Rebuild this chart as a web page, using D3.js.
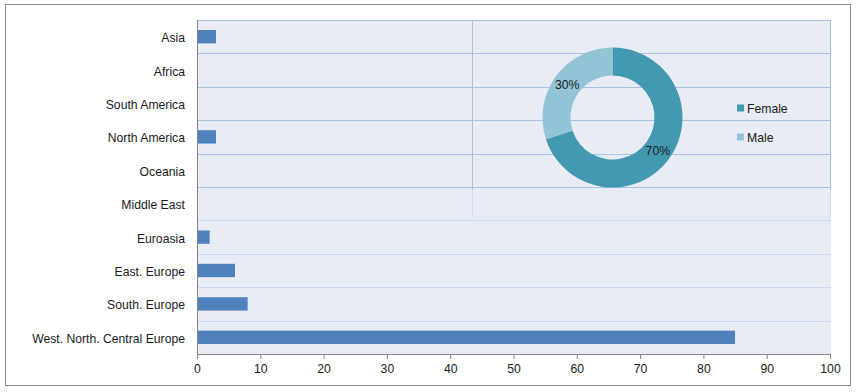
<!DOCTYPE html>
<html>
<head>
<meta charset="utf-8">
<script src="https://cdn.jsdelivr.net/npm/d3@7"></script>
<style>
  html, body { margin: 0; padding: 0; background: #fff; }
  svg { display: block; }
  text { font-family: "Liberation Sans", Arial, sans-serif; fill: #1a1a1a; }
</style>
</head>
<body>
<svg id="chart" width="857" height="392"></svg>
<script>
// ---- data ----
const categories = ["Asia", "Africa", "South America", "North America", "Oceania",
  "Middle East", "Euroasia", "East. Europe", "South. Europe", "West. North. Central Europe"];
const values = [3, 0, 0, 3, 0, 0, 2, 6, 8, 85];
const xTicks = [0, 10, 20, 30, 40, 50, 60, 70, 80, 90, 100];
const genderLabels = ["Female", "Male"];
const genderValues = [70, 30];

// ---- layout ----
const svg = d3.select("#chart");
const plot = { left: 197, right: 831, top: 20, bottom: 354 };
const fontSize = 12.2;

// outer frame
svg.append("rect").attr("x", 5.5).attr("y", 4.5).attr("width", 845).attr("height", 381)
  .attr("fill", "#fff").attr("stroke", "#8c8c8c").attr("stroke-width", 1);

const x = d3.scaleLinear().domain([0, 100]).range([plot.left, plot.right - 1]);
const y = d3.scaleBand().domain(categories).range([plot.top, plot.bottom]).paddingInner(0.6).paddingOuter(0.3);
const yb = d3.scaleBand().domain(categories).range([plot.top, plot.bottom]);

// plot background
svg.append("rect").attr("x", plot.left).attr("y", plot.top)
  .attr("width", plot.right - plot.left).attr("height", plot.bottom - plot.top)
  .attr("fill", "#e8ecf4");

// horizontal gridlines at band boundaries
const boundaries = categories.map(c => yb(c));
svg.append("g").selectAll("line").data(boundaries).join("line")
  .attr("x1", plot.left).attr("x2", plot.right)
  .attr("y1", d => Math.round(d) + 0.5).attr("y2", d => Math.round(d) + 0.5)
  .attr("stroke", d => d < 200 ? "#a9c1ea" : "#ccd9f0").attr("stroke-width", 1);

// donut overlay frame
const ov = { left: 472, top: 20, right: 831, bottom: 218 };
svg.append("line").attr("x1", ov.left + 0.5).attr("x2", ov.left + 0.5).attr("y1", ov.top).attr("y2", 190)
  .attr("stroke", "#a9c1ea");
svg.append("line").attr("x1", ov.left + 0.5).attr("x2", ov.left + 0.5).attr("y1", 190).attr("y2", ov.bottom)
  .attr("stroke", "#d6e0f2");
svg.append("line").attr("x1", ov.right - 0.5).attr("x2", ov.right - 0.5).attr("y1", ov.top).attr("y2", 190)
  .attr("stroke", "#a9c1ea");
svg.append("line").attr("x1", ov.right - 0.5).attr("x2", ov.right - 0.5).attr("y1", 190).attr("y2", ov.bottom)
  .attr("stroke", "#d6e0f2");
svg.append("line").attr("x1", ov.left).attr("x2", ov.right).attr("y1", ov.bottom - 0.5).attr("y2", ov.bottom - 0.5)
  .attr("stroke", "#dde5f3");

// bars
svg.append("g").selectAll("rect").data(values).join("rect")
  .attr("x", x(0))
  .attr("y", (d, i) => y(categories[i]))
  .attr("width", d => x(d) - x(0))
  .attr("height", y.bandwidth())
  .attr("fill", "#4f81bd");

// x axis
const xAxis = d3.axisBottom(x).tickValues(xTicks).tickSize(5).tickPadding(5);
const gx = svg.append("g").attr("transform", `translate(0,${plot.bottom})`).call(xAxis);
gx.select(".domain").attr("stroke", "#868686").attr("d", `M${plot.left},0.5H${x(100)}`);
gx.selectAll(".tick line").attr("stroke", "#868686");
gx.selectAll(".tick text").attr("font-size", fontSize).attr("fill", "#1a1a1a")
  .style("font-family", "'Liberation Sans', Arial, sans-serif");

// y axis
const yAxis = d3.axisLeft(yb).tickSize(0).tickPadding(12);
const gy = svg.append("g").attr("transform", `translate(${plot.left},0)`).call(yAxis);
gy.select(".domain").attr("stroke", "#868686").attr("d", `M0.5,${plot.top}V${plot.bottom + 5}`);
gy.selectAll(".tick text").attr("font-size", fontSize).attr("fill", "#1a1a1a").attr("dy", "0.45em")
  .style("font-family", "'Liberation Sans', Arial, sans-serif");

// donut
const cx = 612.5, cy = 117.5, rOuter = 70, rInner = 42;
const color = d3.scaleOrdinal().domain(genderLabels).range(["#4399b1", "#93c4d6"]);
const pie = d3.pie().sort(null).value(d => d.v);
const arcs = pie(genderLabels.map((g, i) => ({ g, v: genderValues[i] })));
const arc = d3.arc().innerRadius(rInner).outerRadius(rOuter);
const labelArc = d3.arc().innerRadius(56).outerRadius(56);
const gd = svg.append("g").attr("transform", `translate(${cx},${cy})`);
gd.selectAll("path").data(arcs).join("path").attr("d", arc).attr("fill", d => color(d.data.g));
gd.selectAll("text").data(arcs).join("text")
  .attr("transform", d => `translate(${labelArc.centroid(d)})`)
  .attr("text-anchor", "middle").attr("dy", "0.35em")
  .attr("font-size", fontSize)
  .text(d => d.data.v + "%");

// legend
const lg = svg.append("g");
genderLabels.forEach((g, i) => {
  const ly = 108 + i * 29;
  lg.append("rect").attr("x", 737).attr("y", ly - 3.5).attr("width", 7).attr("height", 7).attr("fill", color(g));
  lg.append("text").attr("x", 747).attr("y", ly).attr("dy", "0.38em").attr("font-size", fontSize).text(g);
});
</script>
</body>
</html>
